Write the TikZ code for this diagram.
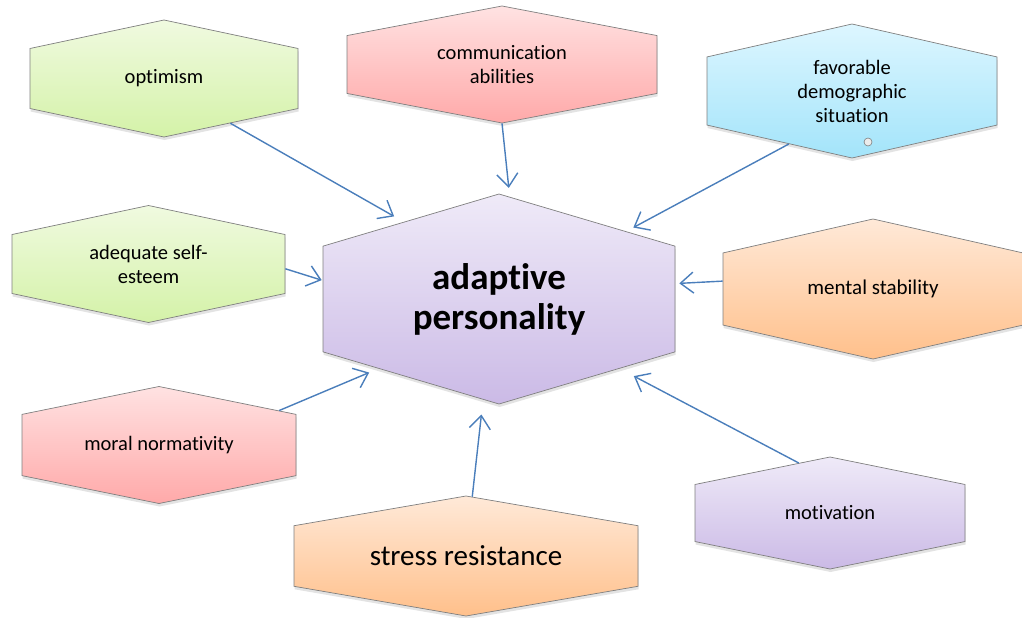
\documentclass[tikz,border=0pt]{standalone}
\usepackage{fontspec}
\setmainfont{Carlito}[Ligatures=CommonOff]
\usetikzlibrary{arrows.meta, shapes.symbols, shadows}
\definecolor{hexLine}{HTML}{7F7F7F}
\definecolor{feedBlue}{HTML}{4A7EBB}
\definecolor{leafTop}{HTML}{F0FAE0}
\definecolor{leafBot}{HTML}{D4F2A8}
\definecolor{roseTop}{HTML}{FFE2E2}
\definecolor{roseBot}{HTML}{FFA9A9}
\definecolor{skyTop}{HTML}{DDF6FF}
\definecolor{skyBot}{HTML}{A3E4FA}
\definecolor{lilacTop}{HTML}{EFEAF8}
\definecolor{lilacBot}{HTML}{CBBAE6}
\definecolor{peachTop}{HTML}{FFE9D8}
\definecolor{peachBot}{HTML}{FFC08B}

\begin{document}
\begin{tikzpicture}[x=1pt, y=-1pt,
    hexa/.style={signal, signal to=north and south, signal pointer angle=156,
      draw=hexLine, line width=0.7pt, inner sep=0pt, align=flush center,
      font=\fontsize{20.5}{24}\selectfont,
      drop shadow={shadow xshift=0.5pt, shadow yshift=-3pt, opacity=0.22}},
    leaf/.style={top color=leafTop, bottom color=leafBot},
    rose/.style={top color=roseTop, bottom color=roseBot},
    sky/.style={top color=skyTop, bottom color=skyBot},
    lilac/.style={top color=lilacTop, bottom color=lilacBot},
    peach/.style={top color=peachTop, bottom color=peachBot},
    feed/.style={draw=feedBlue, line width=1.4pt,
      -{Straight Barb[length=13pt, width=21pt]}}]
  \useasboundingbox (0,0) rectangle (1022,618);

  % centre
  \node[hexa, lilac, text width=352pt, minimum height=210pt,
        signal pointer angle=147, font=\fontsize{37}{40}\selectfont\bfseries]
        (core) at (499,299) {adaptive\\personality};

  % factors around it
  \node[hexa, leaf, text width=268pt, minimum height=117pt] (opt) at (164,78.5) {optimism};
  \node[hexa, rose, text width=310pt, minimum height=117pt, signal pointer angle=158.4]
        (comm) at (502,64.5) {communication\\abilities};
  \node[hexa, sky, text width=290pt, minimum height=134pt, signal pointer angle=154.4]
        (fav) at (852,91) {favorable\\demographic\\situation};
  \node[hexa, leaf, text width=273pt, minimum height=117pt] (adeq) at (148.5,264) {adequate self-\\esteem};
  \node[hexa, peach, text width=300pt, minimum height=140pt, signal pointer angle=154.5,
        font=\fontsize{21}{25}\selectfont] (mental) at (873,289) {mental stability};
  \node[hexa, rose, text width=274pt, minimum height=117pt, signal pointer angle=157]
        (moral) at (159,445) {moral normativity};
  \node[hexa, peach, text width=344pt, minimum height=120pt, signal pointer angle=160.4,
        font=\fontsize{29}{33}\selectfont] (stress) at (466,556) {stress resistance};
  \node[hexa, lilac, text width=270pt, minimum height=112pt, signal pointer angle=157]
        (mot) at (830,513) {motivation};

  \node[circle, draw=hexLine, fill=white!85!gray, line width=0.6pt, minimum size=8pt,
        inner sep=0pt] (dot) at (868,142) {};

  % arrows into the centre
  \foreach \src/\from/\to/\gap in {opt/-34.5/141/11, comm/-90/84.3/9, fav/-140/28/8,
      adeq/-2/174/1, mental/177/5.6/4, moral/16/210.6/10, stress/84.6/261.7/15,
      mot/122.6/-30.2/16}
    \draw[feed, shorten >=\gap pt] (\src.\from) -- (core.\to);
\end{tikzpicture}
\end{document}
